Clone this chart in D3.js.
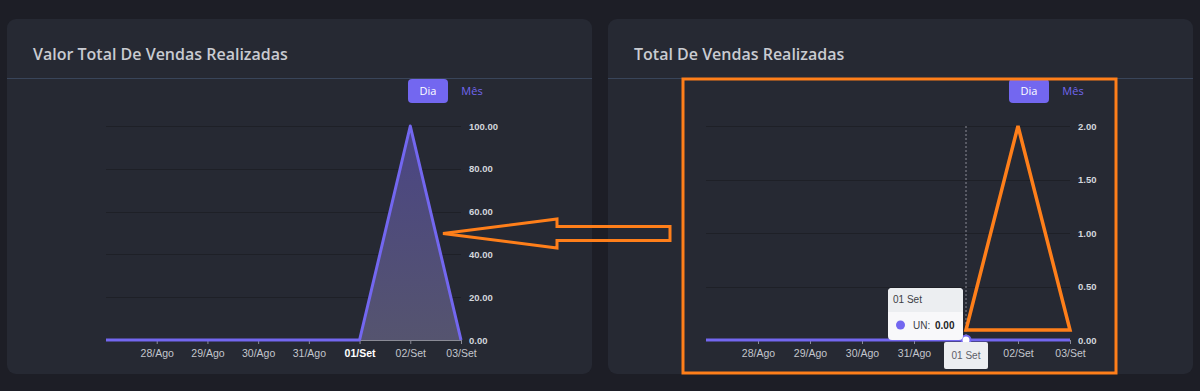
<!DOCTYPE html>
<html>
<head>
<meta charset="utf-8">
<script src="https://cdn.jsdelivr.net/npm/d3@7"></script>
<style>
  body { margin: 0; background: #1d1e26; }
  svg { display: block; }
  .tick text { font-family: "Liberation Sans", Arial, sans-serif; }
</style>
</head>
<body>
<div id="chart"></div>
<script>
// data
var days = ["27/Ago", "28/Ago", "29/Ago", "30/Ago", "31/Ago", "01/Set", "02/Set", "03/Set"];
var valorVendas = [0, 0, 0, 0, 0, 0, 100, 0];
var totalVendas = [0, 0, 0, 0, 0, 0, 0, 0];
var valorTicks = [0, 20, 40, 60, 80, 100];
var totalTicks = [0, 0.5, 1, 1.5, 2];
var hoverDay = "01/Set";

var W = 1200, H = 391;
var svg = d3.select("#chart").append("svg")
    .attr("width", W)
    .attr("height", H);

var defs = svg.append("defs");
var grad = defs.append("linearGradient")
    .attr("id", "areaGrad")
    .attr("x1", 0).attr("y1", 0).attr("x2", 0).attr("y2", 1);
grad.append("stop").attr("offset", 0).attr("stop-color", "#4a4584");
grad.append("stop").attr("offset", 1).attr("stop-color", "#55546f");

// draw one card with chart
function card(opts) {
  var g = svg.append("g").attr("transform", "translate(" + opts.left + ",19)");

  g.append("rect")
      .attr("width", 585).attr("height", 355)
      .attr("rx", 9)
      .attr("fill", "#262933");

  g.append("text")
      .attr("x", 26).attr("y", 41)
      .attr("fill", "#c9cbd1")
      .style("font-family", "'Open Sans', sans-serif")
      .style("font-size", "16px")
      .style("font-weight", 600)
      .text(opts.title);

  g.append("line")
      .attr("x1", 0).attr("x2", 585)
      .attr("y1", 59.5).attr("y2", 59.5)
      .attr("stroke", "#39455a");

  // Dia / Mes buttons
  g.append("rect")
      .attr("x", 401).attr("y", 60)
      .attr("width", 40).attr("height", 24)
      .attr("rx", 4)
      .attr("fill", "#7367f0");
  g.append("text")
      .attr("x", 421).attr("y", 76)
      .attr("text-anchor", "middle")
      .attr("fill", "#ffffff")
      .style("font-family", "'Open Sans', sans-serif")
      .style("font-size", "11px")
      .text("Dia");
  g.append("text")
      .attr("x", 465).attr("y", 76)
      .attr("text-anchor", "middle")
      .attr("fill", "#7367f0")
      .style("font-family", "'Open Sans', sans-serif")
      .style("font-size", "11px")
      .text("Mês");

  var x = d3.scalePoint().domain(days).range([opts.x0 - opts.left, opts.x1 - opts.left]);
  var y = d3.scaleLinear().domain(opts.domain).range([321, 107]);

  // grid
  g.selectAll(".grid")
      .data(opts.ticks)
    .enter().append("line")
      .attr("x1", x.range()[0]).attr("x2", x.range()[1])
      .attr("y1", function(d) { return Math.round(y(d)) + 0.5; })
      .attr("y2", function(d) { return Math.round(y(d)) + 0.5; })
      .attr("stroke", "#1e2027")
      .attr("stroke-width", 1.2);

  // y axis on right
  var yAxis = g.append("g")
      .attr("transform", "translate(" + x.range()[1] + ",0)")
      .call(d3.axisRight(y).tickValues(opts.ticks).tickFormat(d3.format(".2f")).tickSize(0).tickPadding(8));
  yAxis.select(".domain").remove();
  yAxis.selectAll("text")
      .attr("fill", "#d3d6dc")
      .style("font-size", "9.5px")
      .style("font-weight", "bold");

  // x axis
  var xAxis = g.append("g")
      .attr("transform", "translate(0," + y(0) + ")")
      .call(d3.axisBottom(x).tickValues(days.slice(1)).tickSize(4).tickPadding(6));
  xAxis.select(".domain").attr("stroke", "#8a8b96").attr("d", "M" + x.range()[0] + ",0.5H" + x.range()[1]);
  xAxis.selectAll("line").attr("stroke", "#8a8b96");
  xAxis.selectAll("text")
      .attr("fill", function(d) { return d === hoverDay && opts.boldHover ? "#ffffff" : "#c3c6cd"; })
      .style("font-size", "10.5px")
      .style("font-weight", function(d) { return d === hoverDay && opts.boldHover ? "bold" : "normal"; });
  // the hover tooltip covers this label on the right chart
  if (opts.hideHoverLabel) {
    xAxis.selectAll("text").filter(function(d) { return d === hoverDay; }).remove();
  }

  var data = days.map(function(d, i) { return {day: d, v: opts.values[i]}; });

  g.append("path")
      .datum(data)
      .attr("fill", "url(#areaGrad)")
      .attr("d", d3.area()
        .x(function(d) { return x(d.day); })
        .y0(y(0))
        .y1(function(d) { return y(d.v); }));

  g.append("path")
      .datum(data)
      .attr("fill", "none")
      .attr("stroke", "#7367f0")
      .attr("stroke-width", 3)
      .attr("stroke-linejoin", "round")
      .attr("d", d3.line()
        .x(function(d) { return x(d.day); })
        .y(function(d) { return y(d.v); }));

  return {g: g, x: x, y: y};
}

var left = card({
  left: 7, x0: 106, x1: 461,
  title: "Valor Total De Vendas Realizadas",
  domain: [0, 100], ticks: valorTicks, values: valorVendas, boldHover: true
});

var right = card({
  left: 608, x0: 706, x1: 1070,
  title: "Total De Vendas Realizadas",
  domain: [0, 2], ticks: totalTicks, values: totalVendas, boldHover: false, hideHoverLabel: true
});

// hover state on right chart
var rg = right.g, rx = right.x, ry = right.y;
var hx = rx(hoverDay);

rg.append("line")
    .attr("x1", hx).attr("x2", hx)
    .attr("y1", ry(2)).attr("y2", ry(0))
    .attr("stroke", "#8a8b96")
    .attr("stroke-dasharray", "2,2");

rg.append("circle")
    .attr("cx", hx).attr("cy", ry(0))
    .attr("r", 4.5)
    .attr("fill", "#ffffff")
    .attr("stroke", "#7367f0")
    .attr("stroke-width", 2);

// x tooltip
rg.append("rect")
    .attr("x", hx - 22).attr("y", ry(0) + 2)
    .attr("width", 44).attr("height", 27)
    .attr("rx", 2)
    .attr("fill", "#eceef1");
rg.append("text")
    .attr("x", hx).attr("y", ry(0) + 19)
    .attr("text-anchor", "middle")
    .attr("fill", "#5e6068")
    .style("font-family", "'Liberation Sans', Arial, sans-serif")
    .style("font-size", "10px")
    .text("01 Set");

// series tooltip
var tip = rg.append("g").attr("transform", "translate(" + (hx - 78) + "," + (ry(0) - 52) + ")");
tip.append("rect")
    .attr("width", 75).attr("height", 52)
    .attr("rx", 4)
    .attr("fill", "#f8f8fa");
tip.append("path")
    .attr("d", "M0,24V4a4,4 0 0 1 4,-4H71a4,4 0 0 1 4,4V24Z")
    .attr("fill", "#eceef1");
tip.append("text")
    .attr("x", 5).attr("y", 15)
    .attr("fill", "#3c3e46")
    .style("font-family", "'Liberation Sans', Arial, sans-serif")
    .style("font-size", "10px")
    .text("01 Set");
tip.append("circle")
    .attr("cx", 12.5).attr("cy", 37)
    .attr("r", 4.5)
    .attr("fill", "#7367f0");
tip.append("text")
    .attr("x", 25).attr("y", 41)
    .attr("fill", "#3c3e46")
    .style("font-family", "'Liberation Sans', Arial, sans-serif")
    .style("font-size", "10px")
    .text("UN:");
tip.append("text")
    .attr("x", 47).attr("y", 41)
    .attr("fill", "#1e1f26")
    .style("font-family", "'Liberation Sans', Arial, sans-serif")
    .style("font-size", "10px")
    .style("font-weight", "bold")
    .text(d3.format(".2f")(totalVendas[days.indexOf(hoverDay)]));

// orange annotations
var orange = "#ff7f1a";
svg.append("rect")
    .attr("x", 683).attr("y", 79)
    .attr("width", 433).attr("height", 294)
    .attr("fill", "none")
    .attr("stroke", orange)
    .attr("stroke-width", 3);

var tri = [
  [608 + rx("01/Set"), 330],
  [608 + rx("02/Set"), 19 + ry(2)],
  [608 + rx("03/Set"), 330]
];
svg.append("path")
    .attr("d", d3.line()(tri) + "Z")
    .attr("fill", "none")
    .attr("stroke", orange)
    .attr("stroke-width", 3.5)
    .attr("stroke-linejoin", "miter");

svg.append("path")
    .attr("d", "M443,233.5L557,219V226.5H670V240.5H557V248Z")
    .attr("fill", "none")
    .attr("stroke", orange)
    .attr("stroke-width", 3);
</script>
</body>
</html>
